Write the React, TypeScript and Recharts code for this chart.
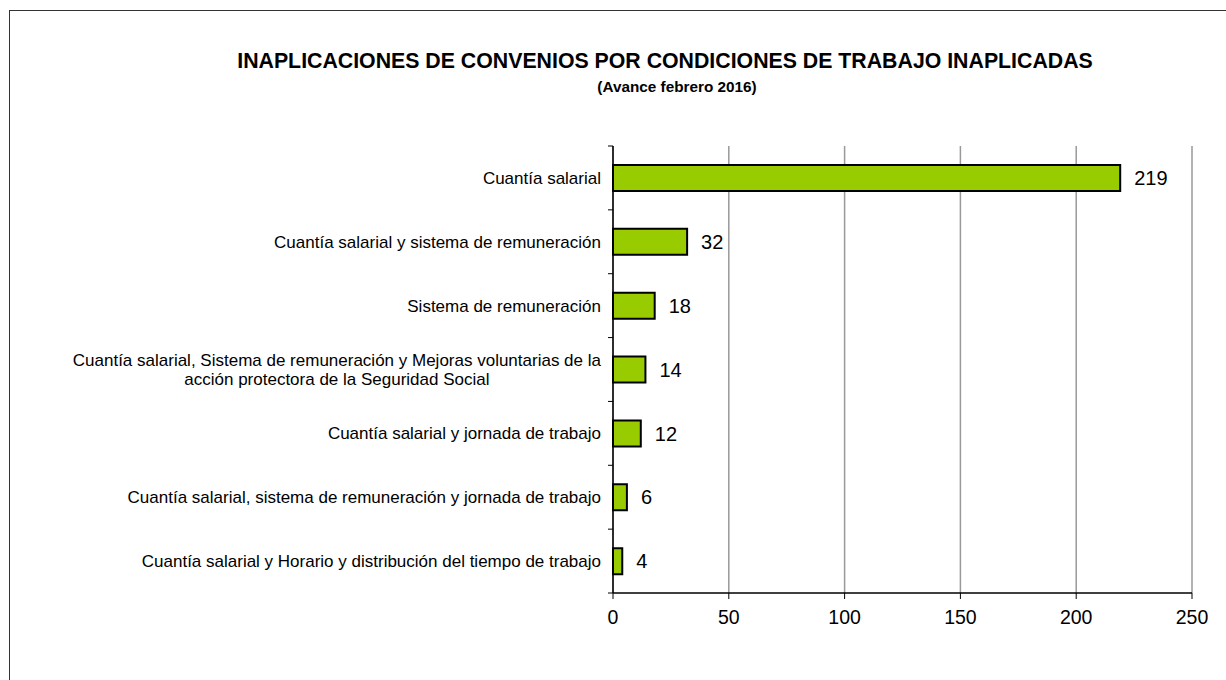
import { BarChart, Bar, XAxis, YAxis, CartesianGrid, LabelList } from 'recharts';

const categories = [
  'Cuantía salarial',
  'Cuantía salarial y sistema de remuneración',
  'Sistema de remuneración',
  'Cuantía salarial, Sistema de remuneración y Mejoras voluntarias de la\nacción protectora de la Seguridad Social',
  'Cuantía salarial y jornada de trabajo',
  'Cuantía salarial, sistema de remuneración y jornada de trabajo',
  'Cuantía salarial y Horario y distribución del tiempo de trabajo',
];
const values = [219, 32, 18, 14, 12, 6, 4];
const xTicks = [0, 50, 100, 150, 200, 250];

const data = categories.map((name, i) => ({ name, value: values[i] }));

const FONT = "'Liberation Sans', Arial, sans-serif";
const LABEL_SIZE = 17;

let ctx: CanvasRenderingContext2D | null = null;
function textWidth(s: string, size: number) {
  if (!ctx) ctx = document.createElement('canvas').getContext('2d');
  if (!ctx) return s.length * size * 0.52;
  ctx.font = `${size}px ${FONT}`;
  return ctx.measureText(s).width;
}

// category labels, plus Excel-style tick marks between categories
function CategoryTick(props: any) {
  const { x, y, payload, index, visibleTicksCount } = props;
  const half = payload.offset || 0;
  const lines: string[] = String(payload.value).split('\n');
  const marks = (
    <>
      <line x1={x - 3} x2={x + 2} y1={y - half} y2={y - half} stroke="#000" />
      {index === visibleTicksCount - 1 && <line x1={x - 3} x2={x + 2} y1={y + half} y2={y + half} stroke="#000" />}
    </>
  );
  if (lines.length === 1) {
    return (
      <g>
        {marks}
        <text x={x - 10} y={y} dy={6} textAnchor="end" fontSize={LABEL_SIZE} fontFamily={FONT} fill="#000">
          {lines[0]}
        </text>
      </g>
    );
  }
  const w = Math.max(...lines.map((l) => textWidth(l, LABEL_SIZE)));
  const cx = x - 10 - w / 2;
  const lh = 19;
  const start = y - ((lines.length - 1) * lh) / 2;
  return (
    <g>
      {marks}
      <text textAnchor="middle" fontSize={LABEL_SIZE} fontFamily={FONT} fill="#000">
        {lines.map((l, i) => (
          <tspan key={i} x={cx} y={start + i * lh} dy={6}>
            {l}
          </tspan>
        ))}
      </text>
    </g>
  );
}

export default function App() {
  return (
    <div style={{ position: 'absolute', left: 0, top: 0, width: 1226, height: 680, background: '#fff' }}>
      <div
        style={{
          position: 'absolute',
          left: 9,
          top: 10,
          right: 0,
          bottom: 0,
          borderLeft: '1px solid #333',
          borderTop: '1px solid #333',
        }}
      />
      <div
        style={{
          position: 'absolute',
          left: 0,
          width: 1330,
          top: 49,
          textAlign: 'center',
          fontFamily: FONT,
          fontWeight: 'bold',
          fontSize: 21.3,
          color: '#000',
        }}
      >
        INAPLICACIONES DE CONVENIOS POR CONDICIONES DE TRABAJO INAPLICADAS
      </div>
      <div
        style={{
          position: 'absolute',
          left: 0,
          width: 1354,
          top: 78,
          textAlign: 'center',
          fontFamily: FONT,
          fontWeight: 'bold',
          fontSize: 15.3,
          color: '#000',
        }}
      >
        (Avance febrero 2016)
      </div>
      <div style={{ position: 'absolute', left: 0, top: 0 }}>
        <BarChart
          width={1226}
          height={680}
          data={data}
          layout="vertical"
          margin={{ top: 146, right: 34, bottom: 57, left: 13 }}
        >
          <CartesianGrid horizontal={false} stroke="#999" strokeWidth={1.5} />
          <XAxis
            type="number"
            domain={[0, 250]}
            ticks={xTicks}
            interval={0}
            axisLine={{ stroke: '#000', strokeWidth: 1.5 }}
            tickLine={{ stroke: '#000' }}
            tickSize={6}
            height={30}
            tick={{ fontSize: 19.5, fontFamily: FONT, fill: '#000', dy: 9 }}
          />
          <XAxis
            xAxisId="top"
            orientation="top"
            type="number"
            domain={[0, 250]}
            tick={false}
            tickLine={false}
            height={0}
            axisLine={{ stroke: '#999', strokeWidth: 1.5 }}
          />
          <YAxis
            type="category"
            dataKey="name"
            width={600}
            interval={0}
            axisLine={{ stroke: '#000', strokeWidth: 1.5 }}
            tickLine={false}
            tickSize={0}
            tick={<CategoryTick />}
          />
          <Bar dataKey="value" fill="#99CC00" stroke="#000" strokeWidth={2} barSize={26} isAnimationActive={false}>
            <LabelList dataKey="value" position="right" offset={14} fontSize={20} fontFamily={FONT} fill="#000" />
          </Bar>
        </BarChart>
      </div>
    </div>
  );
}
